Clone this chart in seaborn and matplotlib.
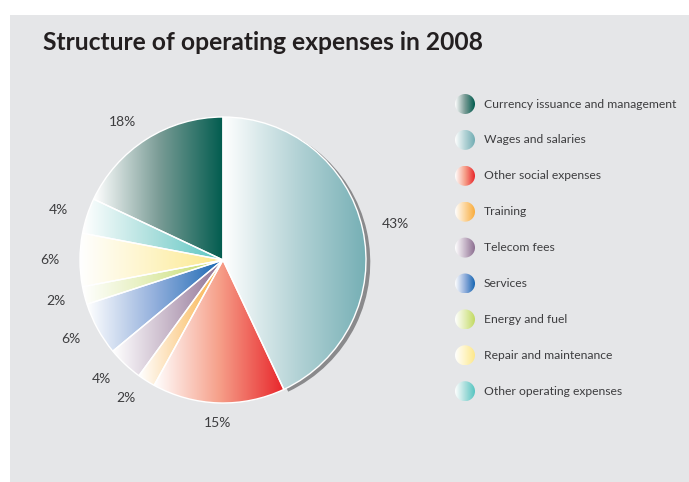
import numpy as np
import matplotlib
matplotlib.use("Agg")
import matplotlib.pyplot as plt
import matplotlib.patches as mpatches
from matplotlib.colors import LinearSegmentedColormap
import seaborn as sns

# data, clockwise from 12 o'clock
categories = [
    "Wages and salaries",
    "Other social expenses",
    "Training",
    "Telecom fees",
    "Services",
    "Energy and fuel",
    "Repair and maintenance",
    "Other operating expenses",
    "Currency issuance and management",
]
shares = [43, 15, 2, 4, 6, 2, 6, 4, 18]
colors = ["#72adb3", "#e8262b", "#f9ac3c", "#8c6e90", "#1766b2",
          "#c2da62", "#fde88a", "#56c5c1", "#005b4e"]
# mid tone of each gradient (white -> mid -> colour)
mid_colors = ["#b4d3d6", "#f6a08a", "#fcd59c", "#c7b7c9", "#92afdc",
              "#e2edb4", "#fef4c6", "#acdfdd", "#7a9c96"]

# legend order as in the original
legend_order = [
    "Currency issuance and management",
    "Wages and salaries",
    "Other social expenses",
    "Training",
    "Telecom fees",
    "Services",
    "Energy and fuel",
    "Repair and maintenance",
    "Other operating expenses",
]

sns.set_theme(style="white")
plt.rcParams["font.family"] = ["Lato", "DejaVu Sans"]

W, H = 689, 482
fig = plt.figure(figsize=(W / 100, H / 100), dpi=100)
fig.patch.set_facecolor("white")

# grey panel
fig.patches.append(mpatches.Rectangle((10 / W, 0), 1, (H - 15) / H,
                                      transform=fig.transFigure,
                                      facecolor="#e5e6e8", edgecolor="none", zorder=-5))

fig.text(43 / W, 1 - 43 / H, "Structure of operating expenses in 2008",
         fontsize=17.7, fontweight="bold", color="#231f20", va="center", ha="left")


def grad_cmap(mid, c):
    return LinearSegmentedColormap.from_list("g", ["#ffffff", mid, c])


grad = np.linspace(0, 1, 256).reshape(1, -1)

# pie axes: centre (223, 260) px, radius 143 px
r_px = 143
lim = 1.4
size = 2 * lim * r_px
cx, cy = 223, H - 260
ax = fig.add_axes([(cx - size / 2) / W, (cy - size / 2) / H, size / W, size / H])
ax.set_xlim(-lim, lim)
ax.set_ylim(-lim, lim)
ax.set_aspect("equal")
ax.axis("off")

# shadow behind the largest slice
start = 90
theta1 = start - shares[0] / 100 * 360
shadow = mpatches.Wedge((0.03, -0.016), 1, theta1, start,
                        facecolor="#8a8a8c", edgecolor="none", zorder=1)
ax.add_patch(shadow)

wedges, texts = ax.pie(shares, colors=colors, startangle=90, counterclock=False,
                       labels=[f"{v}%" for v in shares], labeldistance=1.14,
                       wedgeprops=dict(edgecolor="white", linewidth=1.0),
                       textprops=dict(fontsize=10, color="#3d3d3f"),
                       frame=False)
ax.set_xlim(-lim, lim)
ax.set_ylim(-lim, lim)

for w, m, c in zip(wedges, mid_colors, colors):
    w.set_zorder(3)
    verts = w.get_path().vertices
    x0, x1 = verts[:, 0].min(), verts[:, 0].max()
    y0, y1 = verts[:, 1].min(), verts[:, 1].max()
    im = ax.imshow(grad, cmap=grad_cmap(m, c), extent=(x0, x1, y0, y1),
                   aspect="auto", interpolation="bilinear", zorder=2)
    im.set_clip_path(w)
    w.set_facecolor("none")
for t in texts:
    x, y = t.get_position()
    if abs(x) < 0.2:
        t.set_ha("center")

# legend
lax = fig.add_axes([440 / W, (H - 410) / H, 249 / W, 330 / H])
lax.set_xlim(440, 689)
lax.set_ylim(410, 80)
lax.axis("off")
color_of = dict(zip(categories, colors))
mid_of = dict(zip(categories, mid_colors))
for i, name in enumerate(legend_order):
    y = 104 + i * 35.9
    circ = mpatches.Circle((465, y), 10, facecolor="none", edgecolor="none")
    lax.add_patch(circ)
    im = lax.imshow(grad, cmap=grad_cmap(mid_of[name], color_of[name]),
                    extent=(455, 475, y + 10, y - 10),
                    aspect="auto", interpolation="bilinear")
    im.set_clip_path(circ)
    lax.text(484, y, name, fontsize=8.75, color="#3d3d3f", va="center", ha="left")
lax.set_xlim(440, 689)
lax.set_ylim(410, 80)

fig.savefig("out.png", dpi=100)
